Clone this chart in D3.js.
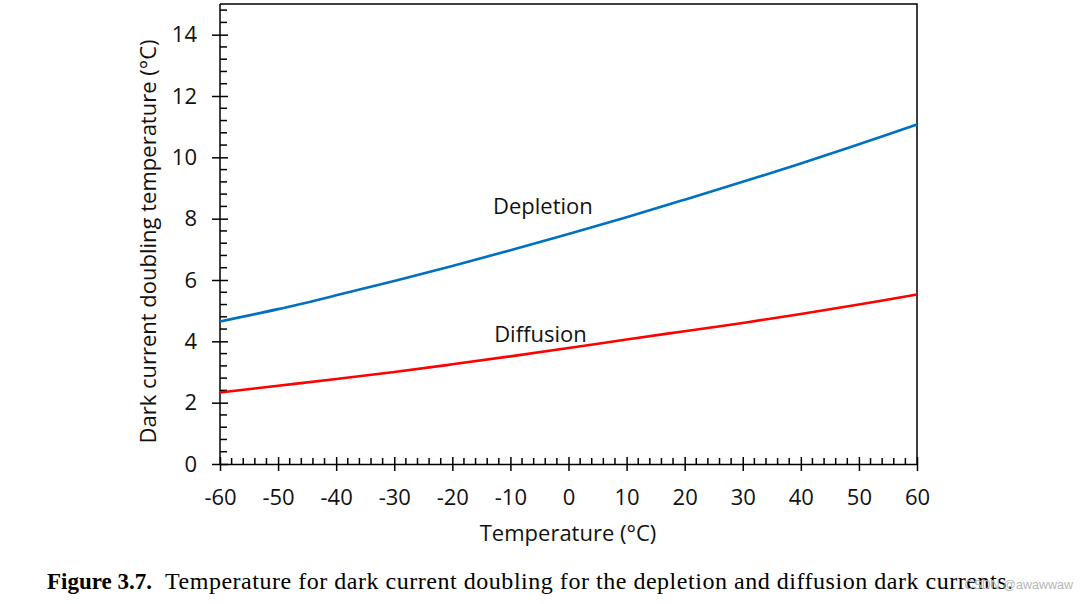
<!DOCTYPE html>
<html>
<head>
<meta charset="utf-8">
<script src="https://cdn.jsdelivr.net/npm/d3@7"></script>
<style>
  html, body { margin: 0; padding: 0; background: #fff; }
  svg { display: block; }
</style>
</head>
<body>
<svg id="chart" width="1091" height="604"></svg>
<script>
// ---- data ----
const temperatures = [-60, -50, -40, -30, -20, -10, 0, 10, 20, 30, 40, 50, 60];
const depletion    = [4.65, 5.05, 5.50, 5.97, 6.46, 6.97, 7.50, 8.05, 8.62, 9.20, 9.80, 10.43, 11.07];
const diffusion    = [2.33, 2.55, 2.77, 3.00, 3.25, 3.51, 3.78, 4.06, 4.33, 4.60, 4.89, 5.20, 5.53];
const xTickValues  = [-60, -50, -40, -30, -20, -10, 0, 10, 20, 30, 40, 50, 60];
const yTickValues  = [0, 2, 4, 6, 8, 10, 12, 14];
const seriesNames  = ["Depletion", "Diffusion"];
const xTitle = "Temperature (°C)";
const yTitle = "Dark current doubling temperature (°C)";
const captionBold = "Figure 3.7.";
const captionText = "Temperature for dark current doubling for the depletion and diffusion dark currents.";
const watermark = "CSDN @awawwaw";

// ---- layout ----
const svg = d3.select("#chart");
const plot = { left: 220, right: 917, top: 4, bottom: 464 };
const x = d3.scaleLinear().domain([-60, 60]).range([plot.left, plot.right]);
const y = d3.scaleLinear().domain([0, 15]).range([plot.bottom, plot.top]);
const font = "'Open Sans', 'Noto Sans', sans-serif";
const fs = 22;

// frame (top and right)
svg.append("path")
  .attr("d", `M${plot.left},${plot.top}H${plot.right}V${plot.bottom}`)
  .attr("fill", "none").attr("stroke", "#000").attr("stroke-width", 1.5);

// minor ticks
const yMinor = d3.range(0, 15.01, 0.4).map(v => Math.round(v * 10) / 10).filter(v => Math.abs(v % 2) > 1e-6);
svg.append("g").selectAll("line").data(yMinor).join("line")
  .attr("x1", plot.left).attr("x2", plot.left + 7)
  .attr("y1", d => y(d)).attr("y2", d => y(d))
  .attr("stroke", "#000").attr("stroke-width", 1.5);
const xMinor = d3.range(-60, 61, 2).filter(v => v % 10 !== 0);
svg.append("g").selectAll("line").data(xMinor).join("line")
  .attr("x1", d => x(d)).attr("x2", d => x(d))
  .attr("y1", plot.bottom).attr("y2", plot.bottom - 6)
  .attr("stroke", "#000").attr("stroke-width", 1.5);

// axes via d3
const xAxis = d3.axisBottom(x).tickValues(xTickValues).tickSizeInner(7).tickSizeOuter(0).tickPadding(18).tickFormat(d => String(d));
const gx = svg.append("g").attr("transform", `translate(0,${plot.bottom})`).call(xAxis);
gx.selectAll(".tick line").attr("y1", -7).attr("stroke-width", 1.5);
gx.select(".domain").attr("stroke-width", 1.5);
gx.selectAll("text").attr("font-family", font).attr("font-size", fs).attr("fill", "#111");

const yAxis = d3.axisLeft(y).tickValues(yTickValues).tickSizeInner(8).tickSizeOuter(0).tickPadding(15).tickFormat(d => String(d));
const gy = svg.append("g").attr("transform", `translate(${plot.left},0)`).call(yAxis);
gy.selectAll(".tick line").attr("x1", 8).attr("stroke-width", 1.5);
gy.select(".domain").attr("stroke-width", 1.5).attr("d", `M0,${plot.bottom}V${plot.top}`);
gy.selectAll("text").attr("font-family", font).attr("font-size", fs).attr("fill", "#111");

// lines
const line = d3.line().x((d, i) => x(temperatures[i])).y(d => y(d)).curve(d3.curveCatmullRom.alpha(0.5));
svg.append("path").datum(depletion).attr("d", line)
  .attr("fill", "none").attr("stroke", "#0070C0").attr("stroke-width", 2.6);
svg.append("path").datum(diffusion).attr("d", line)
  .attr("fill", "none").attr("stroke", "#FF0000").attr("stroke-width", 2.6);

// series labels
svg.append("text").attr("x", x(-13)).attr("y", y(8.15)).text(seriesNames[0])
  .attr("font-family", font).attr("font-size", fs).attr("fill", "#111");
svg.append("text").attr("x", x(-12.8)).attr("y", y(3.98)).text(seriesNames[1])
  .attr("font-family", font).attr("font-size", fs).attr("fill", "#111");

// axis titles
svg.append("text").attr("x", 568).attr("y", 541)
  .attr("text-anchor", "middle").text(xTitle)
  .attr("font-family", font).attr("font-size", fs).attr("fill", "#111");
svg.append("text").attr("transform", `translate(156,241.5) rotate(-90)`)
  .attr("text-anchor", "middle").text(yTitle)
  .attr("font-family", font).attr("font-size", fs).attr("fill", "#111");

// caption
const serif = "'Liberation Serif', 'Times New Roman', serif";
svg.append("text").attr("x", 47).attr("y", 589)
  .attr("font-family", serif).attr("font-size", 23).attr("font-weight", "bold").attr("fill", "#000")
  .text(captionBold);
svg.append("text").attr("x", 165).attr("y", 589)
  .attr("font-family", serif).attr("font-size", 24).attr("fill", "#000")
  .attr("textLength", 848).attr("lengthAdjust", "spacing")
  .text(captionText);

// watermark
svg.append("text").attr("x", 1073).attr("y", 589).attr("text-anchor", "end")
  .text(watermark).attr("font-family", "'Liberation Sans', Arial, sans-serif")
  .attr("font-size", 12.5).attr("fill", "#b5b5b5");
</script>
</body>
</html>
